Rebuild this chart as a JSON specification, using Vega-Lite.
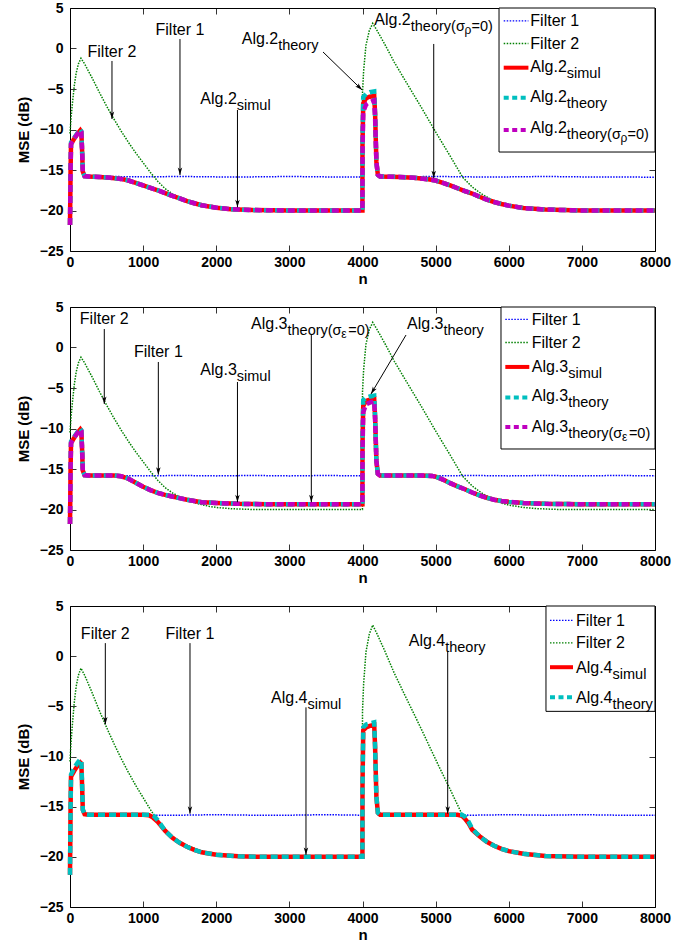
{
  "$schema": "https://vega.github.io/schema/vega-lite/v6.json",
  "padding": {"left": 15, "top": 0, "right": 5, "bottom": 2},
  "bounds": "flush",
  "spacing": 56,
  "config": {
    "view": {"stroke": "#000000", "strokeWidth": 1, "fill": "white"},
    "axis": {"grid": false, "domain": false, "tickSize": -6, "tickColor": "#000", "tickWidth": 0.8, "labelFont": "Liberation Sans", "labelFontSize": 14, "labelFontWeight": "bold", "labelColor": "#000", "titleFont": "Liberation Sans", "titleFontSize": 15, "titleFontWeight": "bold", "titleColor": "#000", "labelFlush": false, "labelOverlap": false},
    "axisX": {"labelPadding": 10, "titlePadding": 2},
    "axisY": {"labelPadding": 13, "titlePadding": 8},
    "text": {"font": "Liberation Sans", "color": "#000"}
  },
  "datasets": {
    "f2": [
      {"n":0,"v":-10.5},{"n":15,"v":-8.5},{"n":35,"v":-6.6},{"n":60,"v":-4.5},{"n":85,"v":-3.0},{"n":115,"v":-1.9},{"n":150,"v":-1.2},{"n":200,"v":-1.9},{"n":300,"v":-3.6},{"n":400,"v":-5.4},{"n":500,"v":-7.1},{"n":600,"v":-8.7},{"n":700,"v":-10.2},{"n":800,"v":-11.6},{"n":900,"v":-12.9},{"n":1000,"v":-14.1},{"n":1100,"v":-15.3},{"n":1200,"v":-16.4},{"n":1300,"v":-17.3},{"n":1400,"v":-17.95},{"n":1500,"v":-18.45},{"n":1600,"v":-18.85},{"n":1700,"v":-19.15},{"n":1800,"v":-19.4},{"n":1900,"v":-19.6},{"n":2000,"v":-19.75},{"n":2200,"v":-19.9},{"n":2500,"v":-20},{"n":3999,"v":-20},
      {"n":4000,"v":-5.5},{"n":4015,"v":-2.8},{"n":4047,"v":0.4},{"n":4093,"v":2.2},{"n":4140,"v":3.1},{"n":4200,"v":2.2},{"n":4300,"v":0.6},{"n":4435,"v":-1.7},{"n":4600,"v":-4.2},{"n":4800,"v":-7.2},{"n":5000,"v":-10.3},{"n":5200,"v":-13.3},{"n":5370,"v":-15.9},{"n":5500,"v":-17.1},{"n":5620,"v":-17.9},{"n":5750,"v":-18.6},{"n":5900,"v":-19.2},{"n":6000,"v":-19.45},{"n":6200,"v":-19.75},{"n":6400,"v":-19.9},{"n":6700,"v":-20},{"n":8000,"v":-20}
    ],
    "d1": [
      {"s":"F1","n":0,"v":-11.8},{"s":"F1","n":60,"v":-11.1},{"s":"F1","n":140,"v":-10.2},{"s":"F1","n":160,"v":-11},{"s":"F1","n":178,"v":-15.2},{"s":"F1","n":210,"v":-15.8},{"s":"F1","n":500,"v":-15.8},{"s":"F1","n":1000,"v":-15.85},{"s":"F1","n":1500,"v":-15.8},{"s":"F1","n":2000,"v":-15.85},{"s":"F1","n":2500,"v":-15.85},{"s":"F1","n":3000,"v":-15.8},{"s":"F1","n":3500,"v":-15.85},{"s":"F1","n":3999,"v":-15.85},{"s":"F1","n":4005,"v":-6.5},{"s":"F1","n":4100,"v":-6.1},{"s":"F1","n":4160,"v":-6.0},{"s":"F1","n":4185,"v":-13},{"s":"F1","n":4215,"v":-15.8},{"s":"F1","n":4500,"v":-15.85},{"s":"F1","n":5000,"v":-15.8},{"s":"F1","n":5500,"v":-15.85},{"s":"F1","n":6000,"v":-15.85},{"s":"F1","n":6500,"v":-15.8},{"s":"F1","n":7000,"v":-15.85},{"s":"F1","n":7500,"v":-15.85},{"s":"F1","n":8000,"v":-15.9},
      {"s":"S","n":0,"v":-21.8},{"s":"S","n":8,"v":-15},{"s":"S","n":14,"v":-11.8},{"s":"S","n":60,"v":-11.1},{"s":"S","n":105,"v":-10.5},{"s":"S","n":141,"v":-10.1},{"s":"S","n":155,"v":-10.3},{"s":"S","n":165,"v":-12.5},{"s":"S","n":175,"v":-15.2},{"s":"S","n":200,"v":-15.75},{"s":"S","n":250,"v":-15.8},{"s":"S","n":400,"v":-15.85},{"s":"S","n":550,"v":-15.95},{"s":"S","n":700,"v":-16.1},{"s":"S","n":800,"v":-16.3},{"s":"S","n":900,"v":-16.6},{"s":"S","n":1000,"v":-16.9},{"s":"S","n":1100,"v":-17.2},{"s":"S","n":1200,"v":-17.5},{"s":"S","n":1300,"v":-17.85},{"s":"S","n":1400,"v":-18.2},{"s":"S","n":1500,"v":-18.5},{"s":"S","n":1600,"v":-18.85},{"s":"S","n":1700,"v":-19.1},{"s":"S","n":1800,"v":-19.35},{"s":"S","n":1900,"v":-19.5},{"s":"S","n":2000,"v":-19.65},{"s":"S","n":2200,"v":-19.85},{"s":"S","n":2500,"v":-19.95},{"s":"S","n":3000,"v":-20},{"s":"S","n":3999,"v":-20},{"s":"S","n":4000,"v":-12},{"s":"S","n":4010,"v":-6.8},{"s":"S","n":4050,"v":-6.1},{"s":"S","n":4100,"v":-5.95},{"s":"S","n":4160,"v":-5.85},{"s":"S","n":4172,"v":-8},{"s":"S","n":4190,"v":-14},{"s":"S","n":4210,"v":-15.6},{"s":"S","n":4240,"v":-15.8},{"s":"S","n":4500,"v":-15.85},{"s":"S","n":4700,"v":-15.95},{"s":"S","n":4900,"v":-16.15},{"s":"S","n":5000,"v":-16.3},{"s":"S","n":5100,"v":-16.6},{"s":"S","n":5200,"v":-16.9},{"s":"S","n":5300,"v":-17.25},{"s":"S","n":5400,"v":-17.6},{"s":"S","n":5500,"v":-17.9},{"s":"S","n":5600,"v":-18.3},{"s":"S","n":5700,"v":-18.65},{"s":"S","n":5800,"v":-18.95},{"s":"S","n":5900,"v":-19.2},{"s":"S","n":6000,"v":-19.4},{"s":"S","n":6200,"v":-19.7},{"s":"S","n":6500,"v":-19.88},{"s":"S","n":7000,"v":-20},{"s":"S","n":8000,"v":-20},
      {"s":"T","n":0,"v":-21.8},{"s":"T","n":8,"v":-15},{"s":"T","n":14,"v":-11.6},{"s":"T","n":60,"v":-11.0},{"s":"T","n":105,"v":-10.4},{"s":"T","n":141,"v":-10.0},{"s":"T","n":155,"v":-10.2},{"s":"T","n":165,"v":-12.5},{"s":"T","n":175,"v":-15.2},{"s":"T","n":200,"v":-15.75},{"s":"T","n":250,"v":-15.8},{"s":"T","n":400,"v":-15.85},{"s":"T","n":550,"v":-15.95},{"s":"T","n":700,"v":-16.1},{"s":"T","n":800,"v":-16.3},{"s":"T","n":900,"v":-16.6},{"s":"T","n":1000,"v":-16.9},{"s":"T","n":1100,"v":-17.2},{"s":"T","n":1200,"v":-17.5},{"s":"T","n":1300,"v":-17.85},{"s":"T","n":1400,"v":-18.2},{"s":"T","n":1500,"v":-18.5},{"s":"T","n":1600,"v":-18.85},{"s":"T","n":1700,"v":-19.1},{"s":"T","n":1800,"v":-19.35},{"s":"T","n":1900,"v":-19.5},{"s":"T","n":2000,"v":-19.65},{"s":"T","n":2200,"v":-19.85},{"s":"T","n":2500,"v":-19.95},{"s":"T","n":3000,"v":-20},{"s":"T","n":3999,"v":-20},{"s":"T","n":4000,"v":-11},{"s":"T","n":4010,"v":-6.0},{"s":"T","n":4050,"v":-5.6},{"s":"T","n":4100,"v":-5.4},{"s":"T","n":4160,"v":-5.3},{"s":"T","n":4172,"v":-8},{"s":"T","n":4190,"v":-14},{"s":"T","n":4210,"v":-15.6},{"s":"T","n":4240,"v":-15.8},{"s":"T","n":4500,"v":-15.85},{"s":"T","n":4700,"v":-15.95},{"s":"T","n":4900,"v":-16.15},{"s":"T","n":5000,"v":-16.3},{"s":"T","n":5100,"v":-16.6},{"s":"T","n":5200,"v":-16.9},{"s":"T","n":5300,"v":-17.25},{"s":"T","n":5400,"v":-17.6},{"s":"T","n":5500,"v":-17.9},{"s":"T","n":5600,"v":-18.3},{"s":"T","n":5700,"v":-18.65},{"s":"T","n":5800,"v":-18.95},{"s":"T","n":5900,"v":-19.2},{"s":"T","n":6000,"v":-19.4},{"s":"T","n":6200,"v":-19.7},{"s":"T","n":6500,"v":-19.88},{"s":"T","n":7000,"v":-20},{"s":"T","n":8000,"v":-20},
      {"s":"T0","n":0,"v":-21.8},{"s":"T0","n":8,"v":-15},{"s":"T0","n":14,"v":-11.8},{"s":"T0","n":60,"v":-11.1},{"s":"T0","n":105,"v":-10.5},{"s":"T0","n":141,"v":-10.1},{"s":"T0","n":155,"v":-10.3},{"s":"T0","n":165,"v":-12.5},{"s":"T0","n":175,"v":-15.2},{"s":"T0","n":200,"v":-15.75},{"s":"T0","n":250,"v":-15.8},{"s":"T0","n":400,"v":-15.85},{"s":"T0","n":550,"v":-15.95},{"s":"T0","n":700,"v":-16.1},{"s":"T0","n":800,"v":-16.3},{"s":"T0","n":900,"v":-16.6},{"s":"T0","n":1000,"v":-16.9},{"s":"T0","n":1100,"v":-17.2},{"s":"T0","n":1200,"v":-17.5},{"s":"T0","n":1300,"v":-17.85},{"s":"T0","n":1400,"v":-18.2},{"s":"T0","n":1500,"v":-18.5},{"s":"T0","n":1600,"v":-18.85},{"s":"T0","n":1700,"v":-19.1},{"s":"T0","n":1800,"v":-19.35},{"s":"T0","n":1900,"v":-19.5},{"s":"T0","n":2000,"v":-19.65},{"s":"T0","n":2200,"v":-19.85},{"s":"T0","n":2500,"v":-19.95},{"s":"T0","n":3000,"v":-20},{"s":"T0","n":3999,"v":-20},{"s":"T0","n":4000,"v":-13},{"s":"T0","n":4010,"v":-7.8},{"s":"T0","n":4050,"v":-6.9},{"s":"T0","n":4100,"v":-6.6},{"s":"T0","n":4160,"v":-6.4},{"s":"T0","n":4172,"v":-8.5},{"s":"T0","n":4190,"v":-14},{"s":"T0","n":4210,"v":-15.6},{"s":"T0","n":4240,"v":-15.8},{"s":"T0","n":4500,"v":-15.85},{"s":"T0","n":4700,"v":-15.95},{"s":"T0","n":4900,"v":-16.15},{"s":"T0","n":5000,"v":-16.3},{"s":"T0","n":5100,"v":-16.6},{"s":"T0","n":5200,"v":-16.9},{"s":"T0","n":5300,"v":-17.25},{"s":"T0","n":5400,"v":-17.6},{"s":"T0","n":5500,"v":-17.9},{"s":"T0","n":5600,"v":-18.3},{"s":"T0","n":5700,"v":-18.65},{"s":"T0","n":5800,"v":-18.95},{"s":"T0","n":5900,"v":-19.2},{"s":"T0","n":6000,"v":-19.4},{"s":"T0","n":6200,"v":-19.7},{"s":"T0","n":6500,"v":-19.88},{"s":"T0","n":7000,"v":-20},{"s":"T0","n":8000,"v":-20}
    ],
    "d2": [
      {"s":"F1","n":0,"v":-11.8},{"s":"F1","n":60,"v":-11.1},{"s":"F1","n":140,"v":-10.2},{"s":"F1","n":160,"v":-11},{"s":"F1","n":178,"v":-15.2},{"s":"F1","n":210,"v":-15.8},{"s":"F1","n":500,"v":-15.8},{"s":"F1","n":1000,"v":-15.85},{"s":"F1","n":1500,"v":-15.8},{"s":"F1","n":2000,"v":-15.85},{"s":"F1","n":2500,"v":-15.8},{"s":"F1","n":3000,"v":-15.85},{"s":"F1","n":3500,"v":-15.8},{"s":"F1","n":3999,"v":-15.85},{"s":"F1","n":4005,"v":-6.9},{"s":"F1","n":4100,"v":-6.4},{"s":"F1","n":4160,"v":-6.3},{"s":"F1","n":4185,"v":-13},{"s":"F1","n":4215,"v":-15.8},{"s":"F1","n":4500,"v":-15.8},{"s":"F1","n":5000,"v":-15.85},{"s":"F1","n":5500,"v":-15.8},{"s":"F1","n":6000,"v":-15.85},{"s":"F1","n":6500,"v":-15.8},{"s":"F1","n":7000,"v":-15.85},{"s":"F1","n":7500,"v":-15.8},{"s":"F1","n":8000,"v":-15.85},
      {"s":"S","n":0,"v":-21.8},{"s":"S","n":8,"v":-15},{"s":"S","n":14,"v":-11.8},{"s":"S","n":60,"v":-11.1},{"s":"S","n":105,"v":-10.5},{"s":"S","n":141,"v":-10.1},{"s":"S","n":155,"v":-10.3},{"s":"S","n":165,"v":-12.5},{"s":"S","n":175,"v":-15.2},{"s":"S","n":200,"v":-15.75},{"s":"S","n":250,"v":-15.8},{"s":"S","n":450,"v":-15.8},{"s":"S","n":600,"v":-15.8},{"s":"S","n":700,"v":-15.9},{"s":"S","n":800,"v":-16.2},{"s":"S","n":900,"v":-16.7},{"s":"S","n":1000,"v":-17.2},{"s":"S","n":1100,"v":-17.6},{"s":"S","n":1200,"v":-17.95},{"s":"S","n":1300,"v":-18.2},{"s":"S","n":1400,"v":-18.4},{"s":"S","n":1500,"v":-18.6},{"s":"S","n":1600,"v":-18.8},{"s":"S","n":1700,"v":-18.95},{"s":"S","n":1800,"v":-19.1},{"s":"S","n":1900,"v":-19.15},{"s":"S","n":2000,"v":-19.2},{"s":"S","n":2300,"v":-19.3},{"s":"S","n":2700,"v":-19.35},{"s":"S","n":3999,"v":-19.35},{"s":"S","n":4000,"v":-12},{"s":"S","n":4010,"v":-7.2},{"s":"S","n":4050,"v":-6.6},{"s":"S","n":4100,"v":-6.45},{"s":"S","n":4160,"v":-6.35},{"s":"S","n":4172,"v":-8.5},{"s":"S","n":4190,"v":-14},{"s":"S","n":4210,"v":-15.6},{"s":"S","n":4240,"v":-15.8},{"s":"S","n":4500,"v":-15.8},{"s":"S","n":4800,"v":-15.8},{"s":"S","n":4950,"v":-15.85},{"s":"S","n":5000,"v":-15.95},{"s":"S","n":5100,"v":-16.3},{"s":"S","n":5200,"v":-16.75},{"s":"S","n":5300,"v":-17.15},{"s":"S","n":5400,"v":-17.5},{"s":"S","n":5500,"v":-17.9},{"s":"S","n":5600,"v":-18.25},{"s":"S","n":5700,"v":-18.55},{"s":"S","n":5800,"v":-18.8},{"s":"S","n":5900,"v":-18.95},{"s":"S","n":6000,"v":-19.05},{"s":"S","n":6200,"v":-19.2},{"s":"S","n":6500,"v":-19.3},{"s":"S","n":7000,"v":-19.35},{"s":"S","n":8000,"v":-19.35},
      {"s":"T","n":0,"v":-21.8},{"s":"T","n":8,"v":-15},{"s":"T","n":14,"v":-11.6},{"s":"T","n":60,"v":-11.0},{"s":"T","n":105,"v":-10.4},{"s":"T","n":141,"v":-10.0},{"s":"T","n":155,"v":-10.2},{"s":"T","n":165,"v":-12.5},{"s":"T","n":175,"v":-15.2},{"s":"T","n":200,"v":-15.75},{"s":"T","n":250,"v":-15.8},{"s":"T","n":450,"v":-15.8},{"s":"T","n":600,"v":-15.8},{"s":"T","n":700,"v":-15.9},{"s":"T","n":800,"v":-16.2},{"s":"T","n":900,"v":-16.7},{"s":"T","n":1000,"v":-17.2},{"s":"T","n":1100,"v":-17.6},{"s":"T","n":1200,"v":-17.95},{"s":"T","n":1300,"v":-18.2},{"s":"T","n":1400,"v":-18.4},{"s":"T","n":1500,"v":-18.6},{"s":"T","n":1600,"v":-18.8},{"s":"T","n":1700,"v":-18.95},{"s":"T","n":1800,"v":-19.1},{"s":"T","n":1900,"v":-19.15},{"s":"T","n":2000,"v":-19.2},{"s":"T","n":2300,"v":-19.3},{"s":"T","n":2700,"v":-19.35},{"s":"T","n":3999,"v":-19.35},{"s":"T","n":4000,"v":-11},{"s":"T","n":4010,"v":-6.5},{"s":"T","n":4050,"v":-6.2},{"s":"T","n":4100,"v":-6.05},{"s":"T","n":4160,"v":-5.95},{"s":"T","n":4172,"v":-8.5},{"s":"T","n":4190,"v":-14},{"s":"T","n":4210,"v":-15.6},{"s":"T","n":4240,"v":-15.8},{"s":"T","n":4500,"v":-15.8},{"s":"T","n":4800,"v":-15.8},{"s":"T","n":4950,"v":-15.85},{"s":"T","n":5000,"v":-15.95},{"s":"T","n":5100,"v":-16.3},{"s":"T","n":5200,"v":-16.75},{"s":"T","n":5300,"v":-17.15},{"s":"T","n":5400,"v":-17.5},{"s":"T","n":5500,"v":-17.9},{"s":"T","n":5600,"v":-18.25},{"s":"T","n":5700,"v":-18.55},{"s":"T","n":5800,"v":-18.8},{"s":"T","n":5900,"v":-18.95},{"s":"T","n":6000,"v":-19.05},{"s":"T","n":6200,"v":-19.2},{"s":"T","n":6500,"v":-19.3},{"s":"T","n":7000,"v":-19.35},{"s":"T","n":8000,"v":-19.35},
      {"s":"T0","n":0,"v":-21.8},{"s":"T0","n":8,"v":-15},{"s":"T0","n":14,"v":-11.8},{"s":"T0","n":60,"v":-11.1},{"s":"T0","n":105,"v":-10.5},{"s":"T0","n":141,"v":-10.1},{"s":"T0","n":155,"v":-10.3},{"s":"T0","n":165,"v":-12.5},{"s":"T0","n":175,"v":-15.2},{"s":"T0","n":200,"v":-15.75},{"s":"T0","n":250,"v":-15.8},{"s":"T0","n":450,"v":-15.8},{"s":"T0","n":600,"v":-15.8},{"s":"T0","n":700,"v":-15.9},{"s":"T0","n":800,"v":-16.2},{"s":"T0","n":900,"v":-16.7},{"s":"T0","n":1000,"v":-17.2},{"s":"T0","n":1100,"v":-17.6},{"s":"T0","n":1200,"v":-17.95},{"s":"T0","n":1300,"v":-18.2},{"s":"T0","n":1400,"v":-18.4},{"s":"T0","n":1500,"v":-18.6},{"s":"T0","n":1600,"v":-18.8},{"s":"T0","n":1700,"v":-18.95},{"s":"T0","n":1800,"v":-19.1},{"s":"T0","n":1900,"v":-19.15},{"s":"T0","n":2000,"v":-19.2},{"s":"T0","n":2300,"v":-19.3},{"s":"T0","n":2700,"v":-19.35},{"s":"T0","n":3999,"v":-19.35},{"s":"T0","n":4000,"v":-13},{"s":"T0","n":4010,"v":-8.0},{"s":"T0","n":4050,"v":-7.0},{"s":"T0","n":4100,"v":-6.8},{"s":"T0","n":4160,"v":-6.6},{"s":"T0","n":4172,"v":-8.8},{"s":"T0","n":4190,"v":-14},{"s":"T0","n":4210,"v":-15.6},{"s":"T0","n":4240,"v":-15.8},{"s":"T0","n":4500,"v":-15.8},{"s":"T0","n":4800,"v":-15.8},{"s":"T0","n":4950,"v":-15.85},{"s":"T0","n":5000,"v":-15.95},{"s":"T0","n":5100,"v":-16.3},{"s":"T0","n":5200,"v":-16.75},{"s":"T0","n":5300,"v":-17.15},{"s":"T0","n":5400,"v":-17.5},{"s":"T0","n":5500,"v":-17.9},{"s":"T0","n":5600,"v":-18.25},{"s":"T0","n":5700,"v":-18.55},{"s":"T0","n":5800,"v":-18.8},{"s":"T0","n":5900,"v":-18.95},{"s":"T0","n":6000,"v":-19.05},{"s":"T0","n":6200,"v":-19.2},{"s":"T0","n":6500,"v":-19.3},{"s":"T0","n":7000,"v":-19.35},{"s":"T0","n":8000,"v":-19.35}
    ],
    "d3": [
      {"s":"F1","n":0,"v":-12},{"s":"F1","n":60,"v":-11.4},{"s":"F1","n":140,"v":-10.5},{"s":"F1","n":160,"v":-11.2},{"s":"F1","n":178,"v":-15.3},{"s":"F1","n":210,"v":-15.8},{"s":"F1","n":500,"v":-15.8},{"s":"F1","n":1000,"v":-15.85},{"s":"F1","n":1500,"v":-15.85},{"s":"F1","n":2000,"v":-15.8},{"s":"F1","n":2500,"v":-15.85},{"s":"F1","n":3000,"v":-15.85},{"s":"F1","n":3500,"v":-15.8},{"s":"F1","n":3999,"v":-15.85},{"s":"F1","n":4005,"v":-7.2},{"s":"F1","n":4100,"v":-6.9},{"s":"F1","n":4160,"v":-6.8},{"s":"F1","n":4185,"v":-13},{"s":"F1","n":4215,"v":-15.8},{"s":"F1","n":4500,"v":-15.8},{"s":"F1","n":5000,"v":-15.8},{"s":"F1","n":5500,"v":-15.85},{"s":"F1","n":6000,"v":-15.8},{"s":"F1","n":6500,"v":-15.85},{"s":"F1","n":7000,"v":-15.8},{"s":"F1","n":7500,"v":-15.85},{"s":"F1","n":8000,"v":-15.85},
      {"s":"S","n":0,"v":-21.8},{"s":"S","n":8,"v":-15},{"s":"S","n":14,"v":-12},{"s":"S","n":60,"v":-11.4},{"s":"S","n":105,"v":-10.9},{"s":"S","n":141,"v":-10.6},{"s":"S","n":155,"v":-10.7},{"s":"S","n":165,"v":-12.8},{"s":"S","n":175,"v":-15.3},{"s":"S","n":200,"v":-15.75},{"s":"S","n":250,"v":-15.8},{"s":"S","n":500,"v":-15.8},{"s":"S","n":800,"v":-15.8},{"s":"S","n":1000,"v":-15.8},{"s":"S","n":1080,"v":-15.85},{"s":"S","n":1130,"v":-16.05},{"s":"S","n":1200,"v":-16.5},{"s":"S","n":1300,"v":-17.4},{"s":"S","n":1400,"v":-18.1},{"s":"S","n":1500,"v":-18.6},{"s":"S","n":1600,"v":-19.0},{"s":"S","n":1700,"v":-19.3},{"s":"S","n":1800,"v":-19.55},{"s":"S","n":2000,"v":-19.8},{"s":"S","n":2300,"v":-19.95},{"s":"S","n":2600,"v":-20},{"s":"S","n":3999,"v":-20},{"s":"S","n":4000,"v":-13},{"s":"S","n":4010,"v":-7.4},{"s":"S","n":4050,"v":-7.1},{"s":"S","n":4100,"v":-6.95},{"s":"S","n":4160,"v":-6.85},{"s":"S","n":4172,"v":-9},{"s":"S","n":4190,"v":-14},{"s":"S","n":4210,"v":-15.6},{"s":"S","n":4240,"v":-15.8},{"s":"S","n":4800,"v":-15.8},{"s":"S","n":5300,"v":-15.8},{"s":"S","n":5360,"v":-15.9},{"s":"S","n":5400,"v":-16.2},{"s":"S","n":5450,"v":-16.65},{"s":"S","n":5500,"v":-17.3},{"s":"S","n":5600,"v":-17.95},{"s":"S","n":5700,"v":-18.5},{"s":"S","n":5800,"v":-18.9},{"s":"S","n":5900,"v":-19.2},{"s":"S","n":6000,"v":-19.43},{"s":"S","n":6200,"v":-19.7},{"s":"S","n":6500,"v":-19.92},{"s":"S","n":7000,"v":-20},{"s":"S","n":8000,"v":-20},
      {"s":"T","n":0,"v":-21.8},{"s":"T","n":8,"v":-15},{"s":"T","n":14,"v":-11.8},{"s":"T","n":60,"v":-11.1},{"s":"T","n":105,"v":-10.6},{"s":"T","n":141,"v":-10.3},{"s":"T","n":155,"v":-10.4},{"s":"T","n":165,"v":-12.6},{"s":"T","n":175,"v":-15.3},{"s":"T","n":200,"v":-15.75},{"s":"T","n":250,"v":-15.8},{"s":"T","n":500,"v":-15.8},{"s":"T","n":800,"v":-15.8},{"s":"T","n":1000,"v":-15.8},{"s":"T","n":1100,"v":-15.8},{"s":"T","n":1150,"v":-15.95},{"s":"T","n":1200,"v":-16.35},{"s":"T","n":1300,"v":-17.4},{"s":"T","n":1400,"v":-18.1},{"s":"T","n":1500,"v":-18.6},{"s":"T","n":1600,"v":-19.0},{"s":"T","n":1700,"v":-19.3},{"s":"T","n":1800,"v":-19.55},{"s":"T","n":2000,"v":-19.8},{"s":"T","n":2300,"v":-19.95},{"s":"T","n":2600,"v":-20},{"s":"T","n":3999,"v":-20},{"s":"T","n":4000,"v":-13},{"s":"T","n":4010,"v":-7.1},{"s":"T","n":4050,"v":-6.8},{"s":"T","n":4100,"v":-6.7},{"s":"T","n":4160,"v":-6.6},{"s":"T","n":4172,"v":-9},{"s":"T","n":4190,"v":-14},{"s":"T","n":4210,"v":-15.6},{"s":"T","n":4240,"v":-15.8},{"s":"T","n":4800,"v":-15.8},{"s":"T","n":5300,"v":-15.8},{"s":"T","n":5360,"v":-15.8},{"s":"T","n":5400,"v":-16.0},{"s":"T","n":5450,"v":-16.5},{"s":"T","n":5500,"v":-17.2},{"s":"T","n":5600,"v":-17.95},{"s":"T","n":5700,"v":-18.5},{"s":"T","n":5800,"v":-18.9},{"s":"T","n":5900,"v":-19.2},{"s":"T","n":6000,"v":-19.43},{"s":"T","n":6200,"v":-19.7},{"s":"T","n":6500,"v":-19.92},{"s":"T","n":7000,"v":-20},{"s":"T","n":8000,"v":-20}
    ],
    "t1": [
      {"t":"Filter 2","n":574,"v":-1.05,"k":"c"},
      {"t":"Filter 1","n":1504,"v":1.63,"k":"c"},
      {"t":"Alg.2","n":2281,"v":-6.81,"k":"r"},{"t":"simul","n":2281,"v":-6.81,"k":"s"},
      {"t":"Alg.2","n":2847,"v":0.59,"k":"r"},{"t":"theory","n":2847,"v":0.59,"k":"s"},
      {"t":"Alg.2","n":4660,"v":2.84,"k":"r"},{"t":"theory(σ","n":4660,"v":2.84,"k":"s"},{"t":"ρ","n":4660,"v":2.84,"k":"ss"},{"t":"=0)","n":4660,"v":2.84,"k":"s3"},
      {"t":"Filter 1","n":6295,"v":2.78,"k":"l"},
      {"t":"Filter 2","n":6295,"v":-0.02,"k":"l"},
      {"t":"Alg.2","n":6794,"v":-2.9,"k":"r"},{"t":"simul","n":6794,"v":-2.9,"k":"s"},
      {"t":"Alg.2","n":6794,"v":-6.6,"k":"r"},{"t":"theory","n":6794,"v":-6.6,"k":"s"},
      {"t":"Alg.2","n":6794,"v":-10.43,"k":"r"},{"t":"theory(σ","n":6794,"v":-10.43,"k":"s"},{"t":"ρ","n":6794,"v":-10.43,"k":"ss"},{"t":"=0)","n":6794,"v":-10.43,"k":"s3"}
    ],
    "t2": [
      {"t":"Filter 2","n":469,"v":2.94,"k":"c"},
      {"t":"Filter 1","n":1208,"v":-1.17,"k":"c"},
      {"t":"Alg.3","n":2281,"v":-3.43,"k":"r"},{"t":"simul","n":2281,"v":-3.43,"k":"s"},
      {"t":"Alg.3","n":2974,"v":2.32,"k":"r"},{"t":"theory(σ","n":2974,"v":2.32,"k":"s"},{"t":"ε","n":2974,"v":2.32,"k":"ss"},{"t":"=0)","n":2974,"v":2.32,"k":"s3"},
      {"t":"Alg.3","n":5108,"v":2.32,"k":"r"},{"t":"theory","n":5108,"v":2.32,"k":"s"},
      {"t":"Filter 1","n":6314,"v":2.74,"k":"l"},
      {"t":"Filter 2","n":6314,"v":-0.02,"k":"l"},
      {"t":"Alg.3","n":6813,"v":-3.02,"k":"r"},{"t":"simul","n":6813,"v":-3.02,"k":"s"},
      {"t":"Alg.3","n":6813,"v":-6.64,"k":"r"},{"t":"theory","n":6813,"v":-6.64,"k":"s"},
      {"t":"Alg.3","n":6813,"v":-10.43,"k":"r"},{"t":"theory(σ","n":6813,"v":-10.43,"k":"s"},{"t":"ε","n":6813,"v":-10.43,"k":"ss"},{"t":"=0)","n":6813,"v":-10.43,"k":"s3"}
    ],
    "t3": [
      {"t":"Filter 2","n":483,"v":1.75,"k":"c"},
      {"t":"Filter 1","n":1641,"v":1.75,"k":"c"},
      {"t":"Alg.4","n":3248,"v":-4.67,"k":"r"},{"t":"simul","n":3248,"v":-4.67,"k":"s"},
      {"t":"Alg.4","n":5131,"v":1.0,"k":"r"},{"t":"theory","n":5131,"v":1.0,"k":"s"},
      {"t":"Filter 1","n":6920,"v":3.0,"k":"l"},
      {"t":"Filter 2","n":6920,"v":0.83,"k":"l"},
      {"t":"Alg.4","n":7419,"v":-1.67,"k":"r"},{"t":"simul","n":7419,"v":-1.67,"k":"s"},
      {"t":"Alg.4","n":7419,"v":-4.67,"k":"r"},{"t":"theory","n":7419,"v":-4.67,"k":"s"}
    ],
    "a1": [
      {"n":574,"v":-1.54,"n2":574,"v2":-8.7,"a":0},
      {"n":1504,"v":1.17,"n2":1504,"v2":-15.62,"a":0},
      {"n":2290,"v":-7.59,"n2":2290,"v2":-19.6,"a":0},
      {"n":3460,"v":-0.43,"n2":3995,"v2":-5.12,"a":314},
      {"n":4974,"v":0.56,"n2":4974,"v2":-16.0,"a":0}
    ],
    "a2": [
      {"n":469,"v":2.28,"n2":469,"v2":-6.98,"a":0},
      {"n":1208,"v":-1.79,"n2":1208,"v2":-15.7,"a":0},
      {"n":2290,"v":-4.26,"n2":2290,"v2":-19.1,"a":0},
      {"n":3300,"v":1.54,"n2":3300,"v2":-19.1,"a":0},
      {"n":4595,"v":1.54,"n2":4116,"v2":-5.74,"a":31}
    ],
    "a3": [
      {"n":483,"v":1.3,"n2":483,"v2":-6.8,"a":0},
      {"n":1641,"v":1.3,"n2":1641,"v2":-15.7,"a":0},
      {"n":3227,"v":-5.1,"n2":3227,"v2":-19.8,"a":0},
      {"n":5165,"v":0.5,"n2":5165,"v2":-15.7,"a":0}
    ],
    "g1": [
      {"s":"F1","n":5931,"n2":6269,"v":3.4},{"s":"F2","n":5931,"n2":6269,"v":0.62},{"s":"S","n":5931,"n2":6269,"v":-2.37},{"s":"T","n":5931,"n2":6269,"v":-6.07},{"s":"T0","n":5931,"n2":6269,"v":-10.06}
    ],
    "g2": [
      {"s":"F1","n":5953,"n2":6281,"v":3.46},{"s":"F2","n":5953,"n2":6281,"v":0.62},{"s":"S","n":5953,"n2":6281,"v":-2.4},{"s":"T","n":5953,"n2":6281,"v":-6.17},{"s":"T0","n":5953,"n2":6281,"v":-9.81}
    ],
    "g3": [
      {"s":"F1","n":6564,"n2":6879,"v":3.57},{"s":"F2","n":6564,"n2":6879,"v":1.33},{"s":"S","n":6564,"n2":6879,"v":-1.1},{"s":"T","n":6564,"n2":6879,"v":-4.1}
    ],
    "b1": [{"n":5867,"n2":8000,"v":5,"v2":-12.78}],
    "b2": [{"n":5894,"n2":8000,"v":5,"v2":-12.53}],
    "b3": [{"n":6509,"n2":8000,"v":5,"v2":-5.5}],
    "frame": [{"n":0,"v":0}]
  },
  "vconcat": [
    {
      "width": 585, "height": 243,
      "resolve": {"axis": {"x": "independent", "y": "independent"}},
      "layer": [
        {
          "layer": [
            {"data": {"name": "d1"}, "transform": [{"filter": {"field": "s", "equal": "F1"}}], "mark": {"type": "line", "color": "#0000ff", "strokeWidth": 1.5, "strokeDash": [1.5, 1.3]},
             "encoding": {"x": {"field": "n", "type": "quantitative", "scale": {"domain": [0, 8000], "nice": false, "zero": false}, "axis": {"values": [0,1000,2000,3000,4000,5000,6000,7000,8000], "format": "d", "title": "n"}},
                          "y": {"field": "v", "type": "quantitative", "scale": {"domain": [-25, 5], "nice": false, "zero": false}, "axis": {"values": [-25,-20,-15,-10,-5,0,5], "format": "d", "title": "MSE (dB)"}}}},
            {"data": {"name": "f2"}, "mark": {"type": "line", "color": "#008000", "strokeWidth": 1.5, "strokeDash": [1.5, 1.3]}, "encoding": {"x": {"field": "n", "type": "quantitative"}, "y": {"field": "v", "type": "quantitative"}}},
            {"data": {"name": "d1"}, "transform": [{"filter": {"field": "s", "equal": "S"}}], "mark": {"type": "line", "color": "#ff0000", "strokeWidth": 4.5}, "encoding": {"x": {"field": "n", "type": "quantitative"}, "y": {"field": "v", "type": "quantitative"}}},
            {"data": {"name": "d1"}, "transform": [{"filter": {"field": "s", "equal": "T"}}], "mark": {"type": "line", "color": "#00bfbf", "strokeWidth": 4.5, "strokeDash": [7, 4]}, "encoding": {"x": {"field": "n", "type": "quantitative"}, "y": {"field": "v", "type": "quantitative"}}},
            {"data": {"name": "d1"}, "transform": [{"filter": {"field": "s", "equal": "T0"}}], "mark": {"type": "line", "color": "#bf00bf", "strokeWidth": 4.5, "strokeDash": [7, 4]}, "encoding": {"x": {"field": "n", "type": "quantitative"}, "y": {"field": "v", "type": "quantitative"}}},
            {"data": {"name": "b1"}, "mark": {"type": "rect", "fill": "white", "stroke": "#000", "strokeWidth": 1}, "encoding": {"x": {"field": "n", "type": "quantitative"}, "x2": {"field": "n2"}, "y": {"field": "v", "type": "quantitative"}, "y2": {"field": "v2"}}},
            {"data": {"name": "g1"}, "transform": [{"filter": {"field": "s", "equal": "F1"}}], "mark": {"type": "rule", "color": "#0000ff", "strokeWidth": 1.3, "strokeDash": [1.5, 1.5]}, "encoding": {"x": {"field": "n", "type": "quantitative"}, "x2": {"field": "n2"}, "y": {"field": "v", "type": "quantitative"}}},
            {"data": {"name": "g1"}, "transform": [{"filter": {"field": "s", "equal": "F2"}}], "mark": {"type": "rule", "color": "#008000", "strokeWidth": 1.3, "strokeDash": [1.5, 1.5]}, "encoding": {"x": {"field": "n", "type": "quantitative"}, "x2": {"field": "n2"}, "y": {"field": "v", "type": "quantitative"}}},
            {"data": {"name": "g1"}, "transform": [{"filter": {"field": "s", "equal": "S"}}], "mark": {"type": "rule", "color": "#ff0000", "strokeWidth": 4}, "encoding": {"x": {"field": "n", "type": "quantitative"}, "x2": {"field": "n2"}, "y": {"field": "v", "type": "quantitative"}}},
            {"data": {"name": "g1"}, "transform": [{"filter": {"field": "s", "equal": "T"}}], "mark": {"type": "rule", "color": "#00bfbf", "strokeWidth": 4, "strokeDash": [5, 3.5]}, "encoding": {"x": {"field": "n", "type": "quantitative"}, "x2": {"field": "n2"}, "y": {"field": "v", "type": "quantitative"}}},
            {"data": {"name": "g1"}, "transform": [{"filter": {"field": "s", "equal": "T0"}}], "mark": {"type": "rule", "color": "#bf00bf", "strokeWidth": 4, "strokeDash": [5, 3.5]}, "encoding": {"x": {"field": "n", "type": "quantitative"}, "x2": {"field": "n2"}, "y": {"field": "v", "type": "quantitative"}}},
            {"data": {"name": "a1"}, "mark": {"type": "rule", "color": "#000", "strokeWidth": 1}, "encoding": {"x": {"field": "n", "type": "quantitative"}, "x2": {"field": "n2"}, "y": {"field": "v", "type": "quantitative"}, "y2": {"field": "v2"}}},
            {"data": {"name": "a1"}, "mark": {"type": "point", "shape": "M0,0L-0.3,-1L0,-0.75L0.3,-1Z", "filled": true, "color": "#000", "size": 220, "opacity": 1}, "encoding": {"x": {"field": "n2", "type": "quantitative"}, "y": {"field": "v2", "type": "quantitative"}, "angle": {"field": "a", "type": "quantitative", "scale": null}}},
            {"data": {"name": "t1"}, "transform": [{"filter": {"field": "k", "equal": "c"}}], "mark": {"type": "text", "align": "center", "baseline": "alphabetic", "fontSize": 16}, "encoding": {"x": {"field": "n", "type": "quantitative"}, "y": {"field": "v", "type": "quantitative"}, "text": {"field": "t"}}},
            {"data": {"name": "t1"}, "transform": [{"filter": {"field": "k", "equal": "l"}}], "mark": {"type": "text", "align": "left", "baseline": "alphabetic", "fontSize": 16}, "encoding": {"x": {"field": "n", "type": "quantitative"}, "y": {"field": "v", "type": "quantitative"}, "text": {"field": "t"}}},
            {"data": {"name": "t1"}, "transform": [{"filter": {"field": "k", "equal": "r"}}], "mark": {"type": "text", "align": "right", "baseline": "alphabetic", "fontSize": 16}, "encoding": {"x": {"field": "n", "type": "quantitative"}, "y": {"field": "v", "type": "quantitative"}, "text": {"field": "t"}}},
            {"data": {"name": "t1"}, "transform": [{"filter": {"field": "k", "equal": "s"}}], "mark": {"type": "text", "align": "left", "baseline": "alphabetic", "fontSize": 14.5, "dy": 6}, "encoding": {"x": {"field": "n", "type": "quantitative"}, "y": {"field": "v", "type": "quantitative"}, "text": {"field": "t"}}},
            {"data": {"name": "t1"}, "transform": [{"filter": {"field": "k", "equal": "ss"}}], "mark": {"type": "text", "align": "left", "baseline": "alphabetic", "fontSize": 12, "dx": 53.8, "dy": 9}, "encoding": {"x": {"field": "n", "type": "quantitative"}, "y": {"field": "v", "type": "quantitative"}, "text": {"field": "t"}}},
            {"data": {"name": "t1"}, "transform": [{"filter": {"field": "k", "equal": "s3"}}], "mark": {"type": "text", "align": "left", "baseline": "alphabetic", "fontSize": 14.5, "dx": 60.7, "dy": 6}, "encoding": {"x": {"field": "n", "type": "quantitative"}, "y": {"field": "v", "type": "quantitative"}, "text": {"field": "t"}}}
          ]
        },
        {"data": {"name": "frame"}, "mark": {"type": "point", "opacity": 0}, "encoding": {"x": {"field": "n", "type": "quantitative", "axis": {"orient": "top", "values": [0,1000,2000,3000,4000,5000,6000,7000,8000], "labels": false, "title": null}}, "y": {"field": "v", "type": "quantitative", "axis": {"orient": "right", "values": [-25,-20,-15,-10,-5,0,5], "labels": false, "title": null}}}}
      ]
    },
    {
      "width": 585, "height": 243,
      "resolve": {"axis": {"x": "independent", "y": "independent"}},
      "layer": [
        {
          "layer": [
            {"data": {"name": "d2"}, "transform": [{"filter": {"field": "s", "equal": "F1"}}], "mark": {"type": "line", "color": "#0000ff", "strokeWidth": 1.5, "strokeDash": [1.5, 1.3]},
             "encoding": {"x": {"field": "n", "type": "quantitative", "scale": {"domain": [0, 8000], "nice": false, "zero": false}, "axis": {"values": [0,1000,2000,3000,4000,5000,6000,7000,8000], "format": "d", "title": "n"}},
                          "y": {"field": "v", "type": "quantitative", "scale": {"domain": [-25, 5], "nice": false, "zero": false}, "axis": {"values": [-25,-20,-15,-10,-5,0,5], "format": "d", "title": "MSE (dB)"}}}},
            {"data": {"name": "f2"}, "mark": {"type": "line", "color": "#008000", "strokeWidth": 1.5, "strokeDash": [1.5, 1.3]}, "encoding": {"x": {"field": "n", "type": "quantitative"}, "y": {"field": "v", "type": "quantitative"}}},
            {"data": {"name": "d2"}, "transform": [{"filter": {"field": "s", "equal": "S"}}], "mark": {"type": "line", "color": "#ff0000", "strokeWidth": 4.5}, "encoding": {"x": {"field": "n", "type": "quantitative"}, "y": {"field": "v", "type": "quantitative"}}},
            {"data": {"name": "d2"}, "transform": [{"filter": {"field": "s", "equal": "T"}}], "mark": {"type": "line", "color": "#00bfbf", "strokeWidth": 4.5, "strokeDash": [7, 4]}, "encoding": {"x": {"field": "n", "type": "quantitative"}, "y": {"field": "v", "type": "quantitative"}}},
            {"data": {"name": "d2"}, "transform": [{"filter": {"field": "s", "equal": "T0"}}], "mark": {"type": "line", "color": "#bf00bf", "strokeWidth": 4.5, "strokeDash": [7, 4]}, "encoding": {"x": {"field": "n", "type": "quantitative"}, "y": {"field": "v", "type": "quantitative"}}},
            {"data": {"name": "b2"}, "mark": {"type": "rect", "fill": "white", "stroke": "#000", "strokeWidth": 1}, "encoding": {"x": {"field": "n", "type": "quantitative"}, "x2": {"field": "n2"}, "y": {"field": "v", "type": "quantitative"}, "y2": {"field": "v2"}}},
            {"data": {"name": "g2"}, "transform": [{"filter": {"field": "s", "equal": "F1"}}], "mark": {"type": "rule", "color": "#0000ff", "strokeWidth": 1.3, "strokeDash": [1.5, 1.5]}, "encoding": {"x": {"field": "n", "type": "quantitative"}, "x2": {"field": "n2"}, "y": {"field": "v", "type": "quantitative"}}},
            {"data": {"name": "g2"}, "transform": [{"filter": {"field": "s", "equal": "F2"}}], "mark": {"type": "rule", "color": "#008000", "strokeWidth": 1.3, "strokeDash": [1.5, 1.5]}, "encoding": {"x": {"field": "n", "type": "quantitative"}, "x2": {"field": "n2"}, "y": {"field": "v", "type": "quantitative"}}},
            {"data": {"name": "g2"}, "transform": [{"filter": {"field": "s", "equal": "S"}}], "mark": {"type": "rule", "color": "#ff0000", "strokeWidth": 4}, "encoding": {"x": {"field": "n", "type": "quantitative"}, "x2": {"field": "n2"}, "y": {"field": "v", "type": "quantitative"}}},
            {"data": {"name": "g2"}, "transform": [{"filter": {"field": "s", "equal": "T"}}], "mark": {"type": "rule", "color": "#00bfbf", "strokeWidth": 4, "strokeDash": [5, 3.5]}, "encoding": {"x": {"field": "n", "type": "quantitative"}, "x2": {"field": "n2"}, "y": {"field": "v", "type": "quantitative"}}},
            {"data": {"name": "g2"}, "transform": [{"filter": {"field": "s", "equal": "T0"}}], "mark": {"type": "rule", "color": "#bf00bf", "strokeWidth": 4, "strokeDash": [5, 3.5]}, "encoding": {"x": {"field": "n", "type": "quantitative"}, "x2": {"field": "n2"}, "y": {"field": "v", "type": "quantitative"}}},
            {"data": {"name": "a2"}, "mark": {"type": "rule", "color": "#000", "strokeWidth": 1}, "encoding": {"x": {"field": "n", "type": "quantitative"}, "x2": {"field": "n2"}, "y": {"field": "v", "type": "quantitative"}, "y2": {"field": "v2"}}},
            {"data": {"name": "a2"}, "mark": {"type": "point", "shape": "M0,0L-0.3,-1L0,-0.75L0.3,-1Z", "filled": true, "color": "#000", "size": 220, "opacity": 1}, "encoding": {"x": {"field": "n2", "type": "quantitative"}, "y": {"field": "v2", "type": "quantitative"}, "angle": {"field": "a", "type": "quantitative", "scale": null}}},
            {"data": {"name": "t2"}, "transform": [{"filter": {"field": "k", "equal": "c"}}], "mark": {"type": "text", "align": "center", "baseline": "alphabetic", "fontSize": 16}, "encoding": {"x": {"field": "n", "type": "quantitative"}, "y": {"field": "v", "type": "quantitative"}, "text": {"field": "t"}}},
            {"data": {"name": "t2"}, "transform": [{"filter": {"field": "k", "equal": "l"}}], "mark": {"type": "text", "align": "left", "baseline": "alphabetic", "fontSize": 16}, "encoding": {"x": {"field": "n", "type": "quantitative"}, "y": {"field": "v", "type": "quantitative"}, "text": {"field": "t"}}},
            {"data": {"name": "t2"}, "transform": [{"filter": {"field": "k", "equal": "r"}}], "mark": {"type": "text", "align": "right", "baseline": "alphabetic", "fontSize": 16}, "encoding": {"x": {"field": "n", "type": "quantitative"}, "y": {"field": "v", "type": "quantitative"}, "text": {"field": "t"}}},
            {"data": {"name": "t2"}, "transform": [{"filter": {"field": "k", "equal": "s"}}], "mark": {"type": "text", "align": "left", "baseline": "alphabetic", "fontSize": 14.5, "dy": 6}, "encoding": {"x": {"field": "n", "type": "quantitative"}, "y": {"field": "v", "type": "quantitative"}, "text": {"field": "t"}}},
            {"data": {"name": "t2"}, "transform": [{"filter": {"field": "k", "equal": "ss"}}], "mark": {"type": "text", "align": "left", "baseline": "alphabetic", "fontSize": 12, "dx": 53.8, "dy": 9}, "encoding": {"x": {"field": "n", "type": "quantitative"}, "y": {"field": "v", "type": "quantitative"}, "text": {"field": "t"}}},
            {"data": {"name": "t2"}, "transform": [{"filter": {"field": "k", "equal": "s3"}}], "mark": {"type": "text", "align": "left", "baseline": "alphabetic", "fontSize": 14.5, "dx": 60.7, "dy": 6}, "encoding": {"x": {"field": "n", "type": "quantitative"}, "y": {"field": "v", "type": "quantitative"}, "text": {"field": "t"}}}
          ]
        },
        {"data": {"name": "frame"}, "mark": {"type": "point", "opacity": 0}, "encoding": {"x": {"field": "n", "type": "quantitative", "axis": {"orient": "top", "values": [0,1000,2000,3000,4000,5000,6000,7000,8000], "labels": false, "title": null}}, "y": {"field": "v", "type": "quantitative", "axis": {"orient": "right", "values": [-25,-20,-15,-10,-5,0,5], "labels": false, "title": null}}}}
      ]
    },
    {
      "width": 585, "height": 301,
      "resolve": {"axis": {"x": "independent", "y": "independent"}},
      "layer": [
        {
          "layer": [
            {"data": {"name": "d3"}, "transform": [{"filter": {"field": "s", "equal": "F1"}}], "mark": {"type": "line", "color": "#0000ff", "strokeWidth": 1.5, "strokeDash": [1.5, 1.3]},
             "encoding": {"x": {"field": "n", "type": "quantitative", "scale": {"domain": [0, 8000], "nice": false, "zero": false}, "axis": {"values": [0,1000,2000,3000,4000,5000,6000,7000,8000], "format": "d", "title": "n"}},
                          "y": {"field": "v", "type": "quantitative", "scale": {"domain": [-25, 5], "nice": false, "zero": false}, "axis": {"values": [-25,-20,-15,-10,-5,0,5], "format": "d", "title": "MSE (dB)"}}}},
            {"data": {"name": "f2"}, "mark": {"type": "line", "color": "#008000", "strokeWidth": 1.5, "strokeDash": [1.5, 1.3]}, "encoding": {"x": {"field": "n", "type": "quantitative"}, "y": {"field": "v", "type": "quantitative"}}},
            {"data": {"name": "d3"}, "transform": [{"filter": {"field": "s", "equal": "S"}}], "mark": {"type": "line", "color": "#ff0000", "strokeWidth": 4.5}, "encoding": {"x": {"field": "n", "type": "quantitative"}, "y": {"field": "v", "type": "quantitative"}}},
            {"data": {"name": "d3"}, "transform": [{"filter": {"field": "s", "equal": "T"}}], "mark": {"type": "line", "color": "#00bfbf", "strokeWidth": 4.5, "strokeDash": [7, 4]}, "encoding": {"x": {"field": "n", "type": "quantitative"}, "y": {"field": "v", "type": "quantitative"}}},
            {"data": {"name": "b3"}, "mark": {"type": "rect", "fill": "white", "stroke": "#000", "strokeWidth": 1}, "encoding": {"x": {"field": "n", "type": "quantitative"}, "x2": {"field": "n2"}, "y": {"field": "v", "type": "quantitative"}, "y2": {"field": "v2"}}},
            {"data": {"name": "g3"}, "transform": [{"filter": {"field": "s", "equal": "F1"}}], "mark": {"type": "rule", "color": "#0000ff", "strokeWidth": 1.3, "strokeDash": [1.5, 1.5]}, "encoding": {"x": {"field": "n", "type": "quantitative"}, "x2": {"field": "n2"}, "y": {"field": "v", "type": "quantitative"}}},
            {"data": {"name": "g3"}, "transform": [{"filter": {"field": "s", "equal": "F2"}}], "mark": {"type": "rule", "color": "#008000", "strokeWidth": 1.3, "strokeDash": [1.5, 1.5]}, "encoding": {"x": {"field": "n", "type": "quantitative"}, "x2": {"field": "n2"}, "y": {"field": "v", "type": "quantitative"}}},
            {"data": {"name": "g3"}, "transform": [{"filter": {"field": "s", "equal": "S"}}], "mark": {"type": "rule", "color": "#ff0000", "strokeWidth": 4}, "encoding": {"x": {"field": "n", "type": "quantitative"}, "x2": {"field": "n2"}, "y": {"field": "v", "type": "quantitative"}}},
            {"data": {"name": "g3"}, "transform": [{"filter": {"field": "s", "equal": "T"}}], "mark": {"type": "rule", "color": "#00bfbf", "strokeWidth": 4, "strokeDash": [5, 3.5]}, "encoding": {"x": {"field": "n", "type": "quantitative"}, "x2": {"field": "n2"}, "y": {"field": "v", "type": "quantitative"}}},
            {"data": {"name": "a3"}, "mark": {"type": "rule", "color": "#000", "strokeWidth": 1}, "encoding": {"x": {"field": "n", "type": "quantitative"}, "x2": {"field": "n2"}, "y": {"field": "v", "type": "quantitative"}, "y2": {"field": "v2"}}},
            {"data": {"name": "a3"}, "mark": {"type": "point", "shape": "M0,0L-0.3,-1L0,-0.75L0.3,-1Z", "filled": true, "color": "#000", "size": 220, "opacity": 1}, "encoding": {"x": {"field": "n2", "type": "quantitative"}, "y": {"field": "v2", "type": "quantitative"}, "angle": {"field": "a", "type": "quantitative", "scale": null}}},
            {"data": {"name": "t3"}, "transform": [{"filter": {"field": "k", "equal": "c"}}], "mark": {"type": "text", "align": "center", "baseline": "alphabetic", "fontSize": 16}, "encoding": {"x": {"field": "n", "type": "quantitative"}, "y": {"field": "v", "type": "quantitative"}, "text": {"field": "t"}}},
            {"data": {"name": "t3"}, "transform": [{"filter": {"field": "k", "equal": "l"}}], "mark": {"type": "text", "align": "left", "baseline": "alphabetic", "fontSize": 16}, "encoding": {"x": {"field": "n", "type": "quantitative"}, "y": {"field": "v", "type": "quantitative"}, "text": {"field": "t"}}},
            {"data": {"name": "t3"}, "transform": [{"filter": {"field": "k", "equal": "r"}}], "mark": {"type": "text", "align": "right", "baseline": "alphabetic", "fontSize": 16}, "encoding": {"x": {"field": "n", "type": "quantitative"}, "y": {"field": "v", "type": "quantitative"}, "text": {"field": "t"}}},
            {"data": {"name": "t3"}, "transform": [{"filter": {"field": "k", "equal": "s"}}], "mark": {"type": "text", "align": "left", "baseline": "alphabetic", "fontSize": 14.5, "dy": 6}, "encoding": {"x": {"field": "n", "type": "quantitative"}, "y": {"field": "v", "type": "quantitative"}, "text": {"field": "t"}}}
          ]
        },
        {"data": {"name": "frame"}, "mark": {"type": "point", "opacity": 0}, "encoding": {"x": {"field": "n", "type": "quantitative", "axis": {"orient": "top", "values": [0,1000,2000,3000,4000,5000,6000,7000,8000], "labels": false, "title": null}}, "y": {"field": "v", "type": "quantitative", "axis": {"orient": "right", "values": [-25,-20,-15,-10,-5,0,5], "labels": false, "title": null}}}}
      ]
    }
  ]
}
